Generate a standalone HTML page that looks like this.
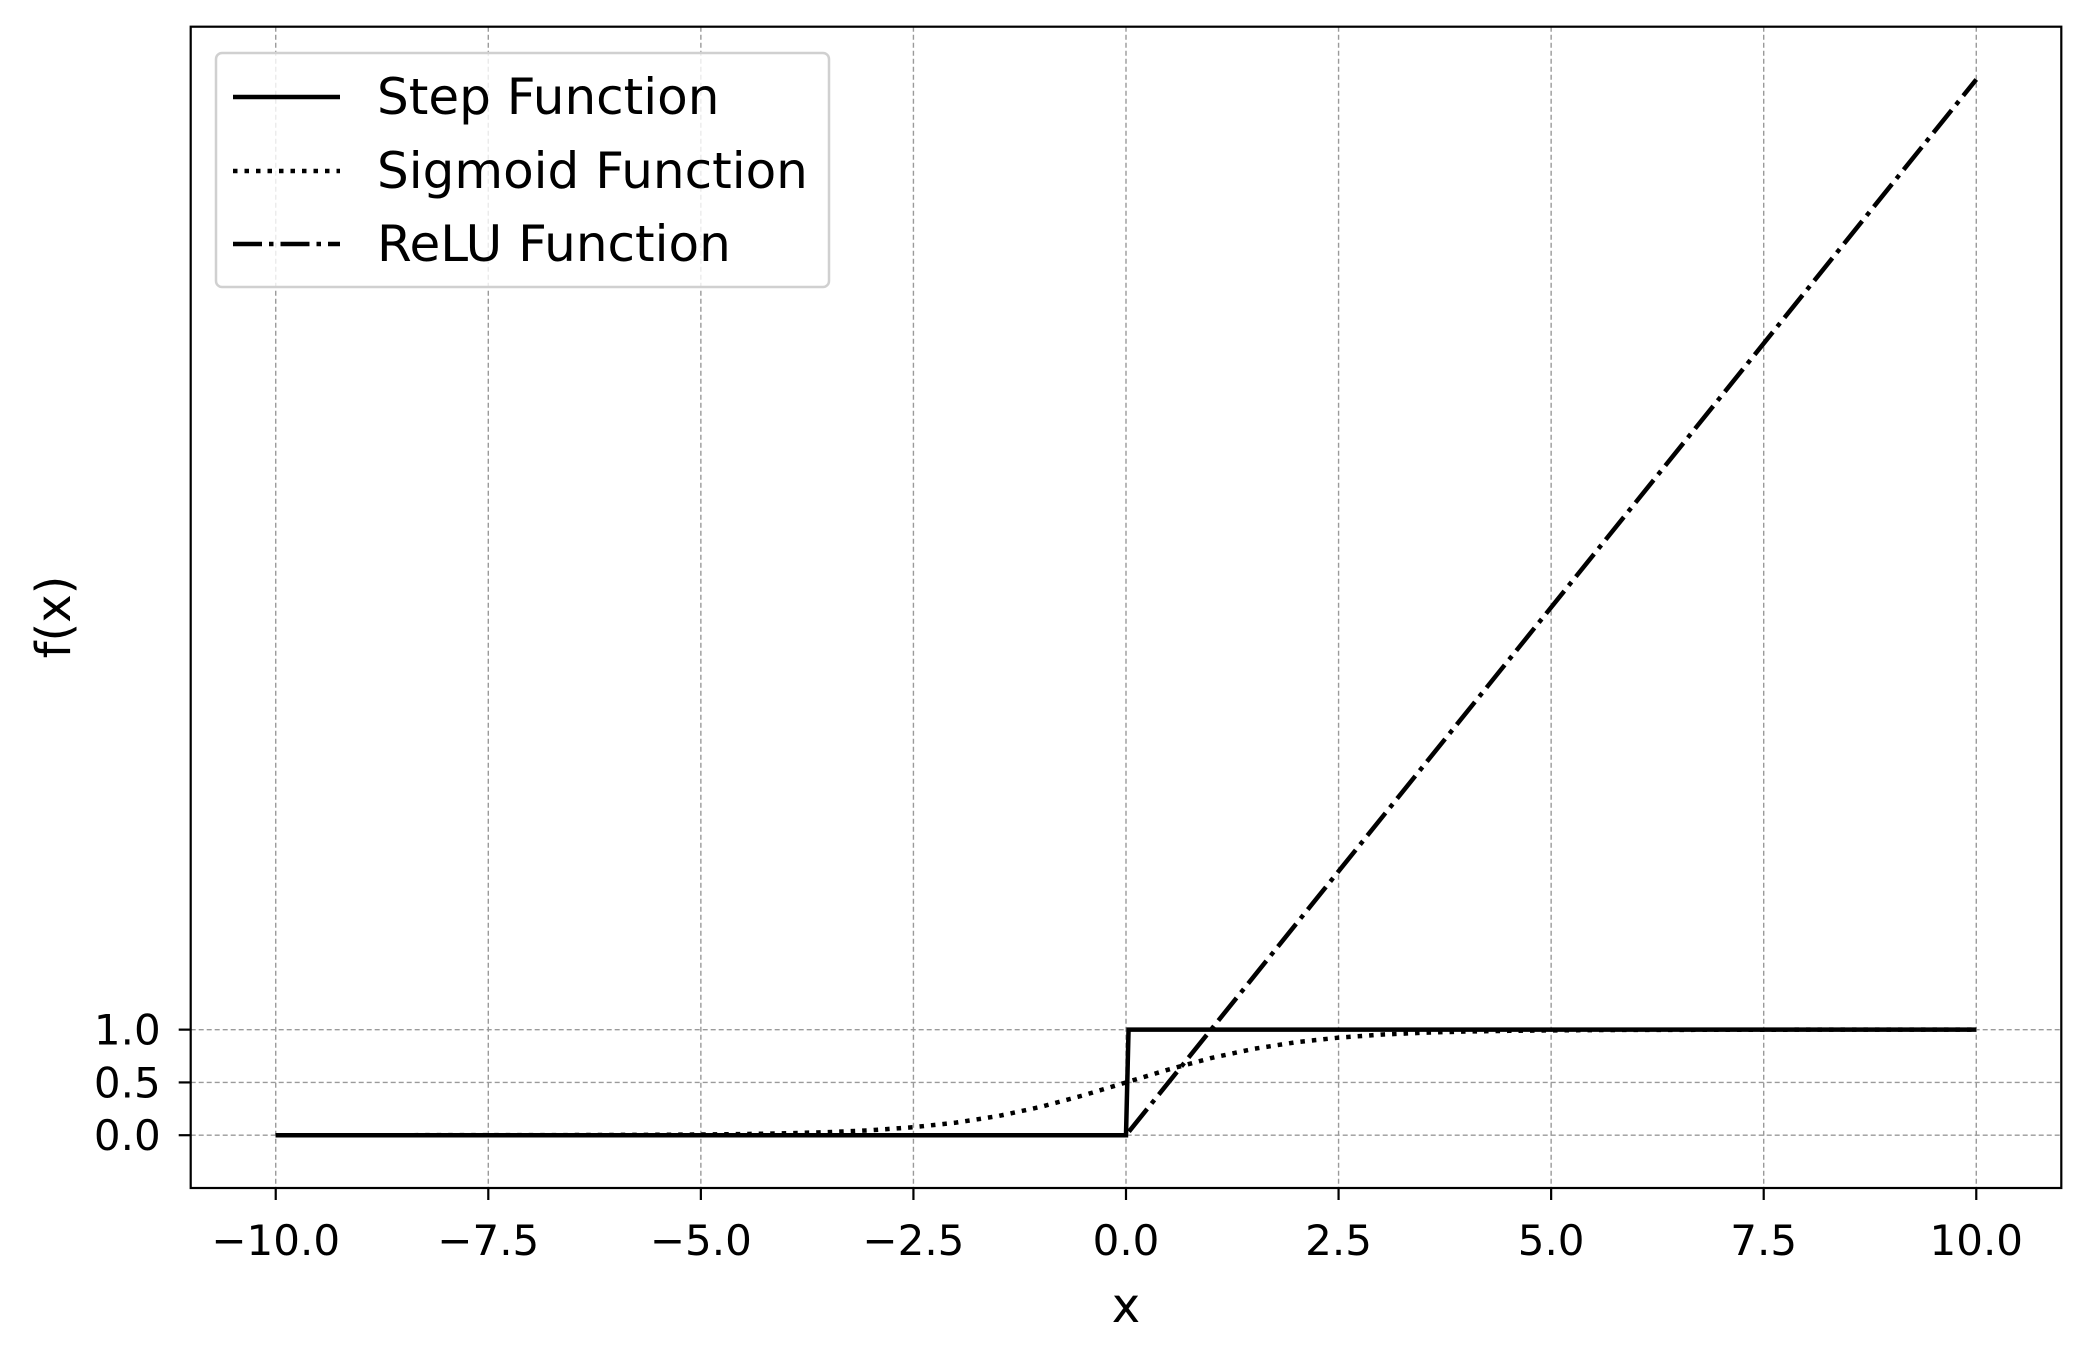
<!DOCTYPE html>
<html><head><meta charset="utf-8"><style>
html,body{margin:0;padding:0;background:#fff;}
svg text{font-family:"DejaVu Sans","Liberation Sans",sans-serif;fill:#000;}
</style></head><body>
<svg id="chart" width="2080" height="1350" viewBox="0 0 2080 1350" xmlns="http://www.w3.org/2000/svg">
<rect x="0" y="0" width="2080" height="1350" fill="#fff"/>
<g id="grid"></g>
<g id="series"></g>
<rect x="190.7" y="26.7" width="1870.6" height="1161.3" fill="none" stroke="#000" stroke-width="2.2"/>
<g id="ticks"></g>
<text x="1126" y="1322" font-size="48" text-anchor="middle">x</text>
<text x="0" y="0" font-size="48" text-anchor="middle" transform="translate(70,617) rotate(-90)">f(x)</text>
<g>
<rect x="216" y="53" width="613" height="234" rx="6" fill="#fff" fill-opacity="0.8" stroke="#d0d0d0" stroke-width="2.5"/>
<g>
<line x1="233" y1="97" x2="340" y2="97" stroke="#000" stroke-width="4.5"/>
<text x="377" y="114" font-size="50">Step Function</text></g>
<g>
<line x1="233" y1="171" x2="340" y2="171" stroke="#000" stroke-width="4.5" stroke-dasharray="4.5 7"/>
<text x="377" y="188" font-size="50">Sigmoid Function</text></g>
<g>
<line x1="233" y1="244" x2="340" y2="244" stroke="#000" stroke-width="4.5" stroke-dasharray="29 7 4.5 7"/>
<text x="377" y="261" font-size="50">ReLU Function</text></g>
</g>
</svg>
<script>
const xTicks=[-10,-7.5,-5,-2.5,0,2.5,5,7.5,10];
const xTickLabels=["\u221210.0","\u22127.5","\u22125.0","\u22122.5","0.0","2.5","5.0","7.5","10.0"];
const yTicks=[0,0.5,1];
const yTickLabels=["0.0","0.5","1.0"];
const sigX=[-10,-9.5,-9,-8.5,-8,-7.5,-7,-6.5,-6,-5.5,-5,-4.5,-4,-3.5,-3,-2.5,-2,-1.5,-1,-0.5,0,0.5,1,1.5,2,2.5,3,3.5,4,4.5,5,5.5,6,6.5,7,7.5,8,8.5,9,9.5,10];
const sigY=[0.00005,0.00007,0.0001,0.0002,0.0003,0.0006,0.0009,0.0015,0.0025,0.0041,0.0067,0.011,0.018,0.029,0.047,0.076,0.119,0.182,0.269,0.378,0.5,0.622,0.731,0.818,0.881,0.924,0.953,0.971,0.982,0.989,0.993,0.996,0.998,0.998,0.999,0.999,1,1,1,1,1];
const stepX=[-10,0,0.03,10];
const stepY=[0,0,1,1];
const reluX=[-10,0,10];
const reluY=[0,0,10];
const NS="http://www.w3.org/2000/svg";
const L=190.7,R=2061.3,T=26.7,B=1188;
const xMin=-11,xMax=11,yMin=-0.5,yMax=10.5;
function sx(v){return L+(v-xMin)/(xMax-xMin)*(R-L);}
function sy(v){return B-(v-yMin)/(yMax-yMin)*(B-T);}
function mk(tag,attrs,parent){const e=document.createElementNS(NS,tag);for(const k in attrs)e.setAttribute(k,attrs[k]);parent.appendChild(e);return e;}
const grid=document.getElementById('grid'),ticks=document.getElementById('ticks'),series=document.getElementById('series');
xTicks.forEach((v,i)=>{
  const g=mk('line',{x1:sx(v),x2:sx(v),y1:T,y2:B,stroke:'#9a9a9a','stroke-width':1.4,'stroke-dasharray':'5 3'},grid);
  
  
  const t=mk('line',{x1:sx(v),x2:sx(v),y1:B,y2:B+12,stroke:'#000','stroke-width':2.2},ticks);
  
  
  const lb=mk('text',{x:sx(v),y:1255,'font-size':42,'text-anchor':'middle'},ticks);
  lb.textContent=xTickLabels[i];
  
  
});
yTicks.forEach((v,i)=>{
  const g=mk('line',{x1:L,x2:R,y1:sy(v),y2:sy(v),stroke:'#9a9a9a','stroke-width':1.4,'stroke-dasharray':'5 3'},grid);
  
  
  const t=mk('line',{x1:L-12,x2:L,y1:sy(v),y2:sy(v),stroke:'#000','stroke-width':2.2},ticks);
  
  
  const lb=mk('text',{x:L-30,y:sy(v)+15,'font-size':42,'text-anchor':'end'},ticks);
  lb.textContent=yTickLabels[i];
  
  
});
function path(xs,ys){return xs.map((x,i)=>(i?'L':'M')+sx(x).toFixed(2)+' '+sy(ys[i]).toFixed(2)).join(' ');}
const relu=mk('path',{d:path(reluX,reluY),fill:'none',stroke:'#000','stroke-width':4.5,'stroke-dasharray':'29 7 4.5 7'},series);


const sig=mk('path',{d:path(sigX,sigY),fill:'none',stroke:'#000','stroke-width':4.5,'stroke-dasharray':'4.5 7'},series);


const step=mk('path',{d:path(stepX,stepY),fill:'none',stroke:'#000','stroke-width':4.5},series);


</script>
</body></html>
